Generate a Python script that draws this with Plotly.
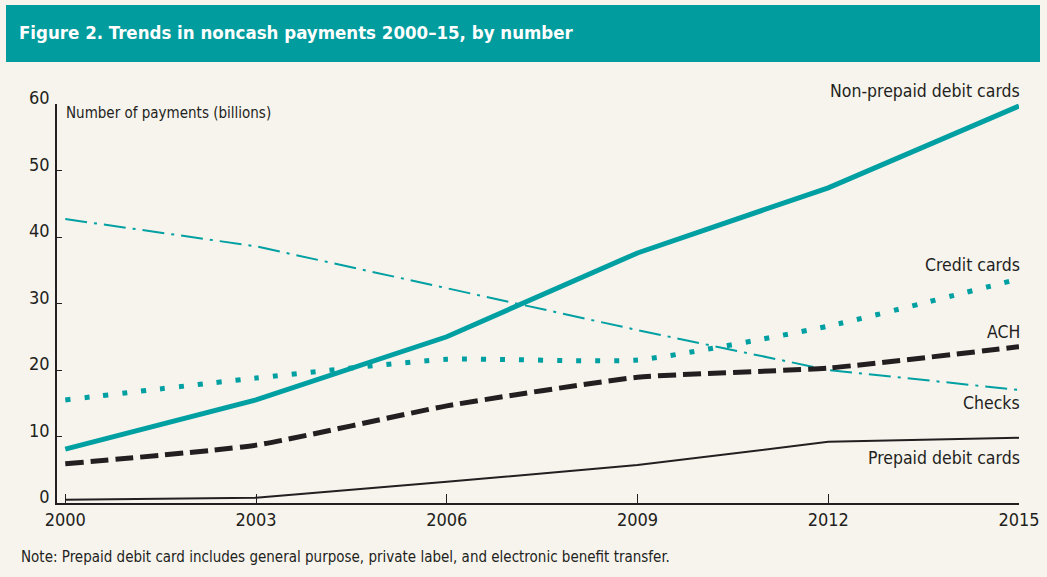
import plotly.graph_objects as go

years = [2000, 2003, 2006, 2009, 2012, 2015]
non_prepaid_debit = [8.1, 15.5, 25.0, 37.6, 47.4, 59.7]
credit_cards = [15.5, 18.8, 21.6, 21.5, 26.6, 33.7]
ach = [5.9, 8.7, 14.6, 18.9, 20.3, 23.5]
checks = [42.7, 38.6, 32.3, 26.0, 20.0, 17.0]
prepaid_debit = [0.5, 0.8, 3.2, 5.7, 9.2, 9.8]

y_ticks = [0, 10, 20, 30, 40, 50, 60]
x_ticks = years

TEAL = "#00A0A2"
DARK = "#231F20"
BG = "#F7F4EE"
FONT = "DejaVu Sans Condensed, Liberation Sans Narrow, sans-serif"

fig = go.Figure()
fig.add_trace(go.Scatter(x=years, y=checks, mode="lines",
                         line=dict(color=TEAL, width=2, dash="22px,7px,3px,7px")))
fig.add_trace(go.Scatter(x=years, y=prepaid_debit, mode="lines",
                         line=dict(color=DARK, width=2)))
fig.add_trace(go.Scatter(x=years, y=ach, mode="lines",
                         line=dict(color=DARK, width=5, dash="18px,7px", shape="spline", smoothing=0.5)))
fig.add_trace(go.Scatter(x=years, y=credit_cards, mode="lines",
                         line=dict(color=TEAL, width=5, dash="5px,14px", shape="spline", smoothing=0.5)))
fig.add_trace(go.Scatter(x=years, y=non_prepaid_debit, mode="lines",
                         line=dict(color=TEAL, width=5)))

Y_MAX = 60
labels = [
    ("Non-prepaid debit cards", 61.9),
    ("Credit cards", 35.8),
    ("ACH", 25.7),
    ("Checks", 15.0),
    ("Prepaid debit cards", 6.8),
]
for text, yv in labels:
    fig.add_annotation(x=2015, y=yv / Y_MAX, xref="x", yref="paper", text=text, showarrow=False,
                       xanchor="right", yanchor="middle", xshift=3,
                       font=dict(family=FONT, size=17.5, color=DARK))

fig.add_annotation(x=2000, y=58.6 / Y_MAX, xref="x", yref="paper", text="Number of payments (billions)",
                   showarrow=False, xanchor="left", yanchor="middle", xshift=-1,
                   font=dict(family=FONT, size=15, color=DARK))

PH = 577 - 104 - 74
# title bar
fig.add_shape(type="rect", xref="paper", yref="paper", x0=-51 / 962, x1=(1040 - 57) / 962,
              y0=(577 - 62 - 74) / PH, y1=(577 - 5 - 74) / PH,
              fillcolor="#009C9E", line_width=0, layer="below")
fig.add_annotation(xref="paper", yref="paper", x=-38 / 962, y=(577 - 33 - 74) / PH,
                   text="<b>Figure 2. Trends in noncash payments 2000\u201315, by number</b>",
                   showarrow=False, xanchor="left", yanchor="middle", xshift=-2,
                   font=dict(family=FONT, size=18.5, color="white"))
fig.add_annotation(xref="paper", yref="paper", x=-36 / 962, y=(577 - 557 - 74) / PH,
                   text="Note: Prepaid debit card includes general purpose, private label, and electronic benefit transfer.",
                   showarrow=False, xanchor="left", yanchor="middle", xshift=-2,
                   font=dict(family=FONT, size=15, color=DARK))

fig.update_layout(
    width=1047, height=577,
    margin=dict(l=57, r=28, t=104, b=74, autoexpand=False),
    paper_bgcolor=BG, plot_bgcolor=BG,
    showlegend=False,
    font=dict(family=FONT, color=DARK),
    xaxis=dict(range=[1999.87, 2015], tickvals=x_ticks, ticktext=[str(v) for v in x_ticks],
               showgrid=False, zeroline=False, showline=True, linecolor=DARK, linewidth=1.5,
               ticks="inside", ticklen=9, tickcolor=DARK, tickwidth=1.2, automargin=False,
               tickfont=dict(family=FONT, size=18, color=DARK)),
    yaxis=dict(range=[0, Y_MAX], tickvals=y_ticks, ticktext=[str(v) for v in y_ticks],
               showgrid=False, zeroline=False, showline=True, linecolor=DARK, linewidth=1.5,
               ticks="inside", ticklen=5, tickcolor=DARK, tickwidth=1.2, automargin=False,
               tickfont=dict(family=FONT, size=18, color=DARK), ticklabelstandoff=2,
               ticklabelshift=-6),
)

fig.write_html("out.html", config={"displayModeBar": False},
               post_script="document.body.style.margin='0px';document.body.style.overflow='hidden';")
